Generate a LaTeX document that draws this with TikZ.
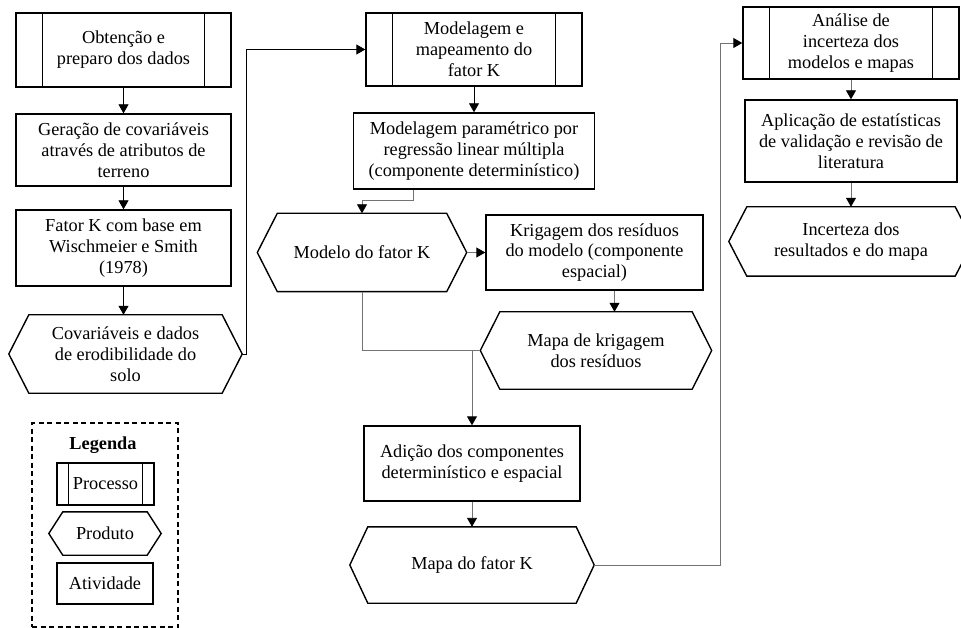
\documentclass[tikz,border=0pt]{standalone}
\usepackage{fontspec}
\setmainfont{Liberation Serif}
\usetikzlibrary{arrows.meta}
\newcommand\hexof[2]{\draw[boxline] (#1.north west) -- (#1.north east) -- ([xshift=#2]#1.east) -- (#1.south east) -- (#1.south west) -- ([xshift=-#2]#1.west) -- cycle;}
\newcommand\procof[2]{\draw[boxline] ([xshift=#2]#1.north west) -- ([xshift=#2]#1.south west) ([xshift=-#2]#1.north east) -- ([xshift=-#2]#1.south east);}
\tikzset{
  boxline/.style={line width=1.4pt, draw=black},
  txt/.style={inner sep=0pt, align=center, font=\fontsize{18.3}{20.8}\selectfont},
  act/.style={txt, draw=black, line width=1.4pt},
  proc/.style={act},
  prod/.style={txt},
  conn/.style={line width=0.9pt, draw=black, -{Triangle[length=9pt,width=10pt,color=black]}},
  gconn/.style={conn, draw=black!55},
  gline/.style={line width=0.9pt, draw=black!55},
  legbox/.style={draw=black, line width=1.2pt, dash pattern=on 5pt off 3.5pt},
}
\begin{document}
\begin{tikzpicture}[x=1pt,y=-1pt]
\useasboundingbox (0,0) rectangle (961,628);
% column 1
\node[proc, minimum width=215, minimum height=74] (obt) at (123.5,50) {Obtenção e\\preparo dos dados};
\procof{obt}{27}
\node[act, minimum width=215, minimum height=72] (ger) at (123.5,150) {Geração de covariáveis\\através de atributos de\\terreno};
\node[act, minimum width=215, minimum height=76] (fat) at (123.5,248) {Fator K com base em\\Wischmeier e Smith\\(1978)};
\node[prod, minimum width=193, minimum height=78] (cov) at (125.5,354) {Covariáveis e dados\\de erodibilidade do\\solo};
\hexof{cov}{20}
\coordinate (covtip) at ([xshift=20]cov.east);
\coordinate (covbend) at ([xshift=4]covtip);
% column 2
\node[proc, minimum width=216, minimum height=73] (mod) at (474,49.5) {Modelagem e\\mapeamento do\\fator K};
\procof{mod}{27}
\node[act, minimum width=241, minimum height=76] (reg) at (474,151) {Modelagem paramétrico por\\regressão linear múltipla\\(componente determinístico)};
\node[prod, minimum width=169, minimum height=78] (modk) at (362,252.5) {Modelo do fator K};
\hexof{modk}{20}
\coordinate (modktip) at ([xshift=20]modk.east);
\node[act, minimum width=217, minimum height=75] (kri) at (594.5,252.5) {Krigagem dos resíduos\\do modelo (componente\\espacial)};
\node[prod, minimum width=192, minimum height=77] (mkr) at (596,350.5) {Mapa de krigagem\\dos resíduos};
\hexof{mkr}{19.5}
\coordinate (mkrtip) at ([xshift=-19.5]mkr.west);
\node[act, minimum width=216, minimum height=75] (adi) at (472,463.5) {Adição dos componentes\\determinístico e espacial};
\node[prod, minimum width=208, minimum height=76] (mfk) at (472,565) {Mapa do fator K};
\hexof{mfk}{18}
\coordinate (mfktip) at ([xshift=18]mfk.east);
\coordinate (mfkbend) at ([xshift=126]mfktip);
\coordinate (regout) at ([xshift=-61]reg.south);
\coordinate (regbend) at ([yshift=-11]regout);
\coordinate (junc) at (adi.north |- mkrtip);
% column 3
\node[proc, minimum width=216, minimum height=72] (ana) at (851,43) {Análise de\\incerteza dos\\modelos e mapas};
\procof{ana}{27}
\node[act, minimum width=212, minimum height=82] (apl) at (851,141) {Aplicação de estatísticas\\de validação e revisão de\\literatura};
\node[prod, minimum width=208, minimum height=69] (inc) at (851,241.5) {Incerteza dos\\resultados e do mapa};
\hexof{inc}{18}
% legend
\node[legbox, minimum width=146, minimum height=204] (leg) at (105,525) {};
\node[txt, font=\fontsize{18.3}{20.8}\selectfont\bfseries] (legt) at (103,445) {Legenda};
\node[proc, minimum width=97, minimum height=42] (lp) at (105.5,484) {Processo};
\procof{lp}{12}
\node[prod, minimum width=84, minimum height=43] (lh) at (105,533.5) {Produto};
\hexof{lh}{14}
\node[act, minimum width=96, minimum height=41] (la) at (105,583.5) {Atividade};
% connectors
\draw[conn] (obt) -- (ger);
\draw[conn] (ger) -- (fat);
\draw[conn] (fat.south) -- (fat.south |- cov.north);
\draw[conn] (covtip) -- (covbend) |- (mod.west);
\draw[conn] (mod) -- (reg);
\draw[gconn] (regout) -- (regbend) -| (modk.north);
\draw[gconn] (modktip) -- (modktip -| kri.west);
\draw[gconn] ([xshift=20]kri.south) -- ([xshift=20]kri.south |- mkr.north);
\draw[gline] (modk.south) |- (mkrtip);
\draw[gconn] (junc) -- (adi.north);
\draw[gconn] (adi) -- (mfk.north);
\draw[gconn] (mfktip) -- (mfkbend) |- (ana.west);
\draw[gconn] (ana) -- (apl);
\draw[gconn] (apl) -- (inc.north);
\end{tikzpicture}
\end{document}
